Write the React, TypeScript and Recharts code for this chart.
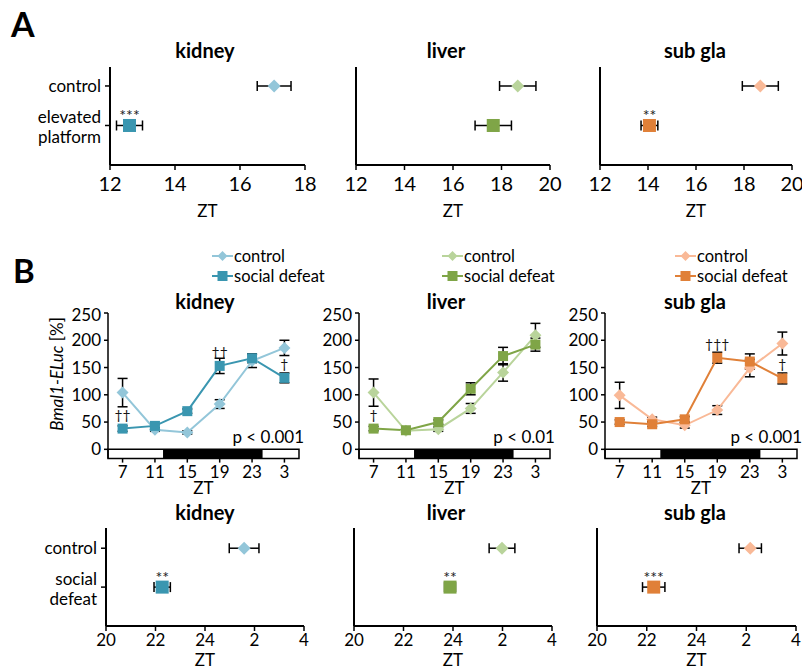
import React from "react";
import {
  ErrorBar,
  LabelList,
  Line,
  LineChart,
  ReferenceArea,
  ReferenceDot,
  Scatter,
  ScatterChart,
  XAxis,
  YAxis,
} from "recharts";

const W = 802;
const H = 669;
const FONT = "Lato, 'Open Sans', sans-serif";

const organs = ["kidney", "liver", "sub gla"];
const lightColors = ["#93c6d9", "#b9d49b", "#f9b997"];
const darkColors = ["#3a96b0", "#7fa547", "#e08038"];

// A: phase (ZT) after elevated platform
const platformCtrlPhase = [17.05, 18.67, 18.68];
const platformCtrlSem = [0.52, 0.75, 0.75];
const platformPhase = [12.6, 17.66, 14.06];
const platformSem = [0.4, 0.75, 0.35];
const platformStars = ["***", "", "**"];

// B bottom: phase after social defeat (hours past 24 continue as 25, 26 ...)
const defeatCtrlPhase = [25.58, 25.98, 26.16];
const defeatCtrlSem = [0.6, 0.52, 0.45];
const defeatPhase = [22.27, 23.88, 22.28];
const defeatSem = [0.33, 0.22, 0.45];
const defeatStars = ["**", "**", "***"];

// B: daily Bmal1-ELuc profiles
const ztHours = [7, 11, 15, 19, 23, 27];
const kidneyCtrl = [104, 36, 31, 83, 162, 186];
const kidneyCtrlSem = [26, 3, 3, 8, 12, 14];
const kidneyDefeat = [38, 43, 70, 153, 167, 131];
const kidneyDefeatSem = [5, 4, 4, 14, 8, 9];
const kidneyMarks = ["††", "", "", "††", "", "†"];

const liverCtrl = [104, 34, 37, 75, 141, 209];
const liverCtrlSem = [25, 3, 4, 9, 16, 22];
const liverDefeat = [38, 35, 50, 111, 171, 192];
const liverDefeatSem = [4, 3, 4, 11, 16, 12];
const liverMarks = ["†", "", "", "", "", ""];

const subglaCtrl = [99, 55, 44, 72, 149, 194];
const subglaCtrlSem = [24, 4, 5, 8, 16, 21];
const subglaDefeat = [50, 46, 55, 168, 161, 130];
const subglaDefeatSem = [4, 4, 5, 10, 14, 10];
const subglaMarks = ["", "", "", "†††", "", "†"];

const pValues = ["p < 0.001", "p < 0.01", "p < 0.001"];

const darkStart = 12;
const darkEnd = 24.3;
const ztMin = 5.2;
const ztMax = 28.8;
const barBottom = -17;

type Plot = { l: number; t: number; r: number; b: number };

const platformPlots: Plot[] = [
  { l: 110, t: 67, r: 305, b: 165 },
  { l: 356, t: 67, r: 550, b: 165 },
  { l: 600, t: 67, r: 792, b: 165 },
];
const profilePlots: Plot[] = [
  { l: 108, t: 312.7, r: 299, b: 458.3 },
  { l: 359, t: 312.7, r: 550, b: 458.3 },
  { l: 605, t: 312.7, r: 797, b: 458.3 },
];
const defeatPlots: Plot[] = [
  { l: 106, t: 528, r: 304, b: 626 },
  { l: 354.3, t: 528, r: 552.3, b: 626 },
  { l: 596.7, t: 528, r: 795.7, b: 626 },
];

function frame(p: Plot, yw: number, xh: number) {
  const m = { left: 4, top: 8, right: 14, bottom: 1 };
  const left = p.l - yw - m.left;
  const top = p.t - m.top;
  return {
    style: { position: "absolute" as const, left, top },
    width: p.r + m.right - left,
    height: p.b + xh + m.bottom - top,
    margin: m,
  };
}

const wrapZT = (v: number) => String(v > 24 ? v - 24 : v);

function Diamond({ cx, cy, color, half }: any) {
  if (cx == null || cy == null) return null;
  return (
    <polygon
      points={`${cx},${cy - half} ${cx + half},${cy} ${cx},${cy + half} ${cx - half},${cy}`}
      fill={color}
    />
  );
}

function Square({ cx, cy, color, side }: any) {
  if (cx == null || cy == null) return null;
  return <rect x={cx - side / 2} y={cy - side / 2} width={side} height={side} fill={color} />;
}

function center(p: any) {
  const vb = p.viewBox ?? {};
  const x = vb.x ?? p.x ?? 0;
  const y = vb.y ?? p.y ?? 0;
  const w = vb.width ?? p.width ?? 0;
  const h = vb.height ?? p.height ?? 0;
  return { cx: x + w / 2, cy: y + h / 2 };
}

function Stars(props: any) {
  if (!props.value) return null;
  const { cx, cy } = center(props);
  return (
    <text x={cx} y={cy - 4} textAnchor="middle" fontSize={16} fill="#222" stroke="none">
      {props.value}
    </text>
  );
}

function Daggers(props: any) {
  if (!props.value) return null;
  const { cx, cy } = center(props);
  return (
    <text x={cx} y={cy - 9} textAnchor="middle" fontSize={14} fill="#111" stroke="none">
      {props.value}
    </text>
  );
}

function RowTick({ x, y, payload, labels }: any) {
  const lines: string[] = payload.value === 2 ? labels[0] : labels[1];
  const first = lines.length > 1 ? -8 : 0;
  return (
    <text x={x} y={y + first + 6} textAnchor="end" fontSize={17} fill="#000">
      {lines.map((s, i) => (
        <tspan key={s} x={x} dy={i === 0 ? 0 : 20}>
          {s}
        </tspan>
      ))}
    </text>
  );
}

function PhaseDots({
  plot,
  rowLabels,
  xDomain,
  xTicks,
  tickFont,
  tickGap,
  yTop,
  xh,
  ztOffset,
  ctrl,
  trt,
  light,
  dark,
}: any) {
  const yw = rowLabels ? 100 : 30;
  const f = frame(plot, yw, xh);
  return (
    <div style={f.style}>
      <ScatterChart width={f.width} height={f.height} margin={f.margin}>
        <XAxis
          type="number"
          dataKey="zt"
          domain={xDomain}
          ticks={xTicks}
          tickFormatter={wrapZT}
          axisLine={{ stroke: "#000", strokeWidth: 2 }}
          tickLine={{ stroke: "#000", strokeWidth: 1.5 }}
          tickSize={5}
          tickMargin={tickGap}
          tick={{ fill: "#000", fontSize: tickFont }}
          height={xh}
          label={{ value: "ZT", position: "insideBottom", offset: ztOffset, fill: "#000", fontSize: 17 }}
        />
        <YAxis
          type="number"
          dataKey="row"
          domain={[0, yTop]}
          ticks={[1, 2]}
          width={yw}
          axisLine={{ stroke: "#000", strokeWidth: 2 }}
          tickLine={{ stroke: "#000", strokeWidth: 1.5 }}
          tickSize={5}
          tickMargin={4}
          tick={rowLabels ? (p: any) => <RowTick {...p} labels={rowLabels} /> : false}
        />
        <Scatter data={ctrl} fill={light} shape={<Diamond color={light} half={6.5} />} isAnimationActive={false}>
          <ErrorBar dataKey="sem" direction="x" width={5} stroke="#000" strokeWidth={1.5} />
        </Scatter>
        <Scatter data={trt} fill={dark} shape={<Square color={dark} side={13} />} isAnimationActive={false}>
          <ErrorBar dataKey="sem" direction="x" width={5} stroke="#000" strokeWidth={1.5} />
          <LabelList dataKey="stars" content={<Stars />} />
        </Scatter>
      </ScatterChart>
    </div>
  );
}

function DailyProfile({ plot, rows, light, dark, pValue }: any) {
  const f = frame(plot, 45, 40);
  return (
    <div style={f.style}>
      <LineChart width={f.width} height={f.height} margin={f.margin} data={rows}>
        <ReferenceArea
          x1={ztMin}
          x2={ztMax}
          y1={barBottom}
          y2={0}
          fill="#fff"
          fillOpacity={1}
          stroke="#000"
          strokeWidth={1.5}
          ifOverflow="visible"
        />
        <ReferenceArea x1={darkStart} x2={darkEnd} y1={barBottom} y2={0} fill="#000" fillOpacity={1} />
        <XAxis
          type="number"
          dataKey="zt"
          domain={[ztMin, ztMax]}
          ticks={ztHours}
          tickFormatter={wrapZT}
          axisLine={false}
          tickLine={{ stroke: "#000", strokeWidth: 1.5 }}
          tickSize={4}
          tickMargin={3}
          tick={{ fill: "#000", fontSize: 17 }}
          height={40}
          label={{ value: "ZT", position: "insideBottom", offset: 5, fill: "#000", fontSize: 17 }}
        />
        <YAxis
          type="number"
          domain={[barBottom, 250]}
          ticks={[0, 50, 100, 150, 200, 250]}
          width={45}
          axisLine={{ stroke: "#000", strokeWidth: 1.5 }}
          tickLine={{ stroke: "#000", strokeWidth: 1.5 }}
          tickSize={4}
          tickMargin={3}
          tick={{ fill: "#000", fontSize: 17 }}
        />
        <Line
          dataKey="control"
          stroke={light}
          strokeWidth={2}
          dot={<Diamond color={light} half={6} />}
          activeDot={false}
          isAnimationActive={false}
        >
          <ErrorBar dataKey="controlSem" direction="y" width={5} stroke="#000" strokeWidth={1.5} />
        </Line>
        <Line
          dataKey="defeat"
          stroke={dark}
          strokeWidth={2}
          dot={<Square color={dark} side={10} />}
          activeDot={false}
          isAnimationActive={false}
        >
          <ErrorBar dataKey="defeatSem" direction="y" width={5} stroke="#000" strokeWidth={1.5} />
          <LabelList dataKey="mark" content={<Daggers />} />
        </Line>
        <ReferenceDot
          x={ztMax}
          y={22.6}
          r={0}
          fill="none"
          stroke="none"
          ifOverflow="visible"
          label={{ value: pValue, position: "left", offset: -5, fill: "#000", fontSize: 17 }}
        />
      </LineChart>
    </div>
  );
}

const profiles = [
  { ctrl: kidneyCtrl, ctrlSem: kidneyCtrlSem, def: kidneyDefeat, defSem: kidneyDefeatSem, marks: kidneyMarks },
  { ctrl: liverCtrl, ctrlSem: liverCtrlSem, def: liverDefeat, defSem: liverDefeatSem, marks: liverMarks },
  { ctrl: subglaCtrl, ctrlSem: subglaCtrlSem, def: subglaDefeat, defSem: subglaDefeatSem, marks: subglaMarks },
].map((s) =>
  ztHours.map((zt, i) => ({
    zt,
    control: s.ctrl[i],
    controlSem: s.ctrlSem[i],
    defeat: s.def[i],
    defeatSem: s.defSem[i],
    mark: s.marks[i],
  }))
);

const titleX = [205, 446, 695];
const legendX = [212, 442, 675];

function LegendRow({ x, y, color, kind, label }: any) {
  return (
    <g>
      <line x1={x} x2={x + 21} y1={y} y2={y} stroke={color} strokeWidth={2} />
      {kind === "diamond" ? (
        <Diamond cx={x + 10.5} cy={y} color={color} half={5} />
      ) : (
        <Square cx={x + 10.5} cy={y} color={color} side={10} />
      )}
      <text x={x + 22} y={y + 6} fontSize={16.5} fill="#000">
        {label}
      </text>
    </g>
  );
}

function Overlay() {
  return (
    <svg
      width={W}
      height={H}
      style={{ position: "absolute", left: 0, top: 0, pointerEvents: "none" }}
      fontFamily={FONT}
    >
      <text x={11} y={37} fontSize={34} fontWeight={700}>
        A
      </text>
      <text x={13} y={283} fontSize={33} fontWeight={700}>
        B
      </text>
      {organs.map((o, i) => (
        <g key={o}>
          <text x={titleX[i]} y={57.5} textAnchor="middle" fontSize={20} fontWeight={700}>
            {o}
          </text>
          <text x={titleX[i]} y={309} textAnchor="middle" fontSize={20} fontWeight={700}>
            {o}
          </text>
          <text x={titleX[i]} y={520} textAnchor="middle" fontSize={20} fontWeight={700}>
            {o}
          </text>
          <LegendRow x={legendX[i]} y={256} color={lightColors[i]} kind="diamond" label="control" />
          <LegendRow x={legendX[i]} y={276} color={darkColors[i]} kind="square" label="social defeat" />
        </g>
      ))}
      <text transform="translate(63,374) rotate(-90)" textAnchor="middle" fontSize={17}>
        <tspan fontStyle="italic">Bmal1-ELuc</tspan> [%]
      </text>
    </svg>
  );
}

export default function App() {
  return (
    <div
      style={{
        position: "absolute",
        left: 0,
        top: 0,
        width: W,
        height: H,
        overflow: "hidden",
        background: "#fff",
        fontFamily: FONT,
        color: "#000",
      }}
    >
      {organs.map((o, i) => (
        <PhaseDots
          key={"a" + o}
          plot={platformPlots[i]}
          rowLabels={i === 0 ? [["control"], ["elevated", "platform"]] : null}
          xDomain={i === 0 ? [12, 18] : [12, 20]}
          xTicks={i === 0 ? [12, 14, 16, 18] : [12, 14, 16, 18, 20]}
          tickFont={20}
          tickGap={7}
          yTop={2.48}
          xh={56}
          ztOffset={4}
          ctrl={[{ zt: platformCtrlPhase[i], row: 2, sem: platformCtrlSem[i] }]}
          trt={[{ zt: platformPhase[i], row: 1, sem: platformSem[i], stars: platformStars[i] }]}
          light={lightColors[i]}
          dark={darkColors[i]}
        />
      ))}
      {organs.map((o, i) => (
        <DailyProfile
          key={"b" + o}
          plot={profilePlots[i]}
          rows={profiles[i]}
          light={lightColors[i]}
          dark={darkColors[i]}
          pValue={pValues[i]}
        />
      ))}
      {organs.map((o, i) => (
        <PhaseDots
          key={"c" + o}
          plot={defeatPlots[i]}
          rowLabels={i === 0 ? [["control"], ["social", "defeat"]] : null}
          xDomain={[20, 28]}
          xTicks={[20, 22, 24, 26, 28]}
          tickFont={17}
          tickGap={3}
          yTop={2.52}
          xh={42}
          ztOffset={2}
          ctrl={[{ zt: defeatCtrlPhase[i], row: 2, sem: defeatCtrlSem[i] }]}
          trt={[{ zt: defeatPhase[i], row: 1, sem: defeatSem[i], stars: defeatStars[i] }]}
          light={lightColors[i]}
          dark={darkColors[i]}
        />
      ))}
      <Overlay />
    </div>
  );
}
